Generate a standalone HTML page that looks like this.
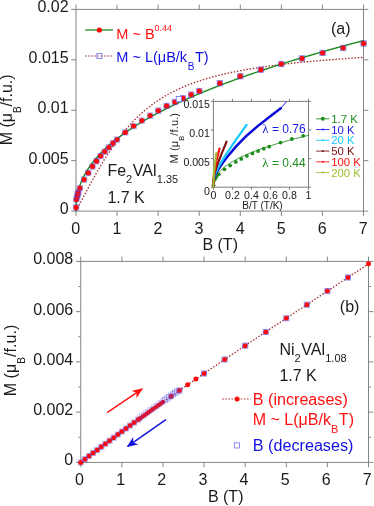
<!DOCTYPE html>
<html><head><meta charset="utf-8"><title>chart</title><style>html,body{margin:0;padding:0;background:#fff;}svg{display:block;}</style></head><body>
<svg width="374" height="506" viewBox="0 0 374 506" font-family="Liberation Sans, sans-serif">
<rect x="0" y="0" width="374" height="506" fill="#ffffff"/>
<filter id="idf" x="0" y="0" width="374" height="506" filterUnits="userSpaceOnUse" color-interpolation-filters="sRGB"><feOffset dx="0" dy="0"/></filter>
<g filter="url(#idf)">
<clipPath id="ca"><rect x="76.0" y="9.4" width="288.0" height="201.7"/></clipPath>
<path d="M76.00 9.40 H363.50 V211.10 H76.00 Z" fill="none" stroke="#858585" stroke-width="1"/>
<line x1="76.00" y1="211.10" x2="76.00" y2="215.90" stroke="#858585" stroke-width="1" />
<line x1="76.00" y1="9.40" x2="76.00" y2="4.60" stroke="#858585" stroke-width="1" />
<line x1="117.07" y1="211.10" x2="117.07" y2="215.90" stroke="#858585" stroke-width="1" />
<line x1="117.07" y1="9.40" x2="117.07" y2="4.60" stroke="#858585" stroke-width="1" />
<line x1="158.14" y1="211.10" x2="158.14" y2="215.90" stroke="#858585" stroke-width="1" />
<line x1="158.14" y1="9.40" x2="158.14" y2="4.60" stroke="#858585" stroke-width="1" />
<line x1="199.21" y1="211.10" x2="199.21" y2="215.90" stroke="#858585" stroke-width="1" />
<line x1="199.21" y1="9.40" x2="199.21" y2="4.60" stroke="#858585" stroke-width="1" />
<line x1="240.29" y1="211.10" x2="240.29" y2="215.90" stroke="#858585" stroke-width="1" />
<line x1="240.29" y1="9.40" x2="240.29" y2="4.60" stroke="#858585" stroke-width="1" />
<line x1="281.36" y1="211.10" x2="281.36" y2="215.90" stroke="#858585" stroke-width="1" />
<line x1="281.36" y1="9.40" x2="281.36" y2="4.60" stroke="#858585" stroke-width="1" />
<line x1="322.43" y1="211.10" x2="322.43" y2="215.90" stroke="#858585" stroke-width="1" />
<line x1="322.43" y1="9.40" x2="322.43" y2="4.60" stroke="#858585" stroke-width="1" />
<line x1="363.50" y1="211.10" x2="363.50" y2="215.90" stroke="#858585" stroke-width="1" />
<line x1="363.50" y1="9.40" x2="363.50" y2="4.60" stroke="#858585" stroke-width="1" />
<line x1="71.20" y1="211.10" x2="76.00" y2="211.10" stroke="#858585" stroke-width="1" />
<line x1="363.50" y1="211.10" x2="368.30" y2="211.10" stroke="#858585" stroke-width="1" />
<line x1="71.20" y1="160.67" x2="76.00" y2="160.67" stroke="#858585" stroke-width="1" />
<line x1="363.50" y1="160.67" x2="368.30" y2="160.67" stroke="#858585" stroke-width="1" />
<line x1="71.20" y1="110.25" x2="76.00" y2="110.25" stroke="#858585" stroke-width="1" />
<line x1="363.50" y1="110.25" x2="368.30" y2="110.25" stroke="#858585" stroke-width="1" />
<line x1="71.20" y1="59.82" x2="76.00" y2="59.82" stroke="#858585" stroke-width="1" />
<line x1="363.50" y1="59.82" x2="368.30" y2="59.82" stroke="#858585" stroke-width="1" />
<line x1="71.20" y1="9.40" x2="76.00" y2="9.40" stroke="#858585" stroke-width="1" />
<line x1="363.50" y1="9.40" x2="368.30" y2="9.40" stroke="#858585" stroke-width="1" />
<path d="M76.00 211.10 L76.72 209.72 L77.44 208.34 L78.16 206.96 L78.88 205.58 L79.59 204.21 L80.31 202.83 L81.03 201.46 L81.75 200.09 L82.47 198.72 L83.19 197.35 L83.91 195.99 L84.62 194.63 L85.34 193.28 L86.06 191.92 L86.78 190.58 L87.50 189.23 L88.22 187.90 L88.94 186.57 L89.66 185.24 L90.38 183.92 L91.09 182.60 L91.81 181.29 L92.53 179.99 L93.25 178.70 L93.97 177.41 L94.69 176.13 L95.41 174.85 L96.12 173.59 L96.84 172.33 L97.56 171.08 L98.28 169.83 L99.00 168.60 L99.72 167.37 L100.44 166.16 L101.16 164.95 L101.88 163.75 L102.59 162.56 L103.31 161.38 L104.03 160.21 L104.75 159.05 L105.47 157.90 L106.19 156.76 L106.91 155.63 L107.62 154.50 L108.34 153.39 L109.06 152.29 L109.78 151.20 L110.50 150.12 L111.22 149.05 L111.94 147.99 L112.66 146.94 L113.38 145.90 L114.09 144.87 L114.81 143.85 L115.53 142.85 L116.25 141.85 L116.97 140.86 L117.69 139.89 L118.41 138.92 L119.12 137.97 L119.84 137.02 L120.56 136.09 L121.28 135.17 L122.00 134.25 L122.72 133.35 L123.44 132.46 L124.16 131.58 L124.88 130.71 L125.59 129.85 L126.31 129.00 L127.03 128.16 L127.75 127.33 L128.47 126.51 L129.19 125.70 L129.91 124.90 L130.62 124.11 L131.34 123.33 L132.06 122.56 L132.78 121.80 L133.50 121.05 L134.22 120.30 L134.94 119.57 L135.66 118.85 L136.38 118.13 L137.09 117.43 L137.81 116.73 L138.53 116.05 L139.25 115.37 L139.97 114.70 L140.69 114.04 L141.41 113.39 L142.12 112.74 L142.84 112.11 L143.56 111.48 L144.28 110.86 L145.00 110.25 L145.72 109.65 L146.44 109.05 L147.16 108.47 L147.88 107.89 L148.59 107.31 L149.31 106.75 L150.03 106.19 L150.75 105.64 L151.47 105.10 L152.19 104.57 L152.91 104.04 L153.62 103.52 L154.34 103.00 L155.06 102.50 L155.78 101.99 L156.50 101.50 L157.22 101.01 L157.94 100.53 L158.66 100.05 L159.38 99.59 L160.09 99.12 L160.81 98.67 L161.53 98.21 L162.25 97.77 L162.97 97.33 L163.69 96.90 L164.41 96.47 L165.12 96.05 L165.84 95.63 L166.56 95.22 L167.28 94.81 L168.00 94.41 L168.72 94.01 L169.44 93.62 L170.16 93.23 L170.88 92.85 L171.59 92.48 L172.31 92.10 L173.03 91.74 L173.75 91.37 L174.47 91.01 L175.19 90.66 L175.91 90.31 L176.62 89.97 L177.34 89.63 L178.06 89.29 L178.78 88.96 L179.50 88.63 L180.22 88.30 L180.94 87.98 L181.66 87.67 L182.38 87.35 L183.09 87.04 L183.81 86.74 L184.53 86.44 L185.25 86.14 L185.97 85.84 L186.69 85.55 L187.41 85.26 L188.12 84.98 L188.84 84.70 L189.56 84.42 L190.28 84.15 L191.00 83.87 L191.72 83.61 L192.44 83.34 L193.16 83.08 L193.88 82.82 L194.59 82.56 L195.31 82.31 L196.03 82.06 L196.75 81.81 L197.47 81.56 L198.19 81.32 L198.91 81.08 L199.62 80.84 L200.34 80.61 L201.06 80.38 L201.78 80.15 L202.50 79.92 L203.22 79.70 L203.94 79.47 L204.66 79.25 L205.38 79.04 L206.09 78.82 L206.81 78.61 L207.53 78.40 L208.25 78.19 L208.97 77.98 L209.69 77.78 L210.41 77.58 L211.12 77.38 L211.84 77.18 L212.56 76.98 L213.28 76.79 L214.00 76.60 L214.72 76.41 L215.44 76.22 L216.16 76.03 L216.88 75.85 L217.59 75.67 L218.31 75.49 L219.03 75.31 L219.75 75.13 L220.47 74.95 L221.19 74.78 L221.91 74.61 L222.62 74.44 L223.34 74.27 L224.06 74.10 L224.78 73.93 L225.50 73.77 L226.22 73.61 L226.94 73.45 L227.66 73.29 L228.38 73.13 L229.09 72.97 L229.81 72.82 L230.53 72.66 L231.25 72.51 L231.97 72.36 L232.69 72.21 L233.41 72.06 L234.12 71.92 L234.84 71.77 L235.56 71.63 L236.28 71.48 L237.00 71.34 L237.72 71.20 L238.44 71.06 L239.16 70.92 L239.88 70.79 L240.59 70.65 L241.31 70.52 L242.03 70.38 L242.75 70.25 L243.47 70.12 L244.19 69.99 L244.91 69.86 L245.62 69.73 L246.34 69.61 L247.06 69.48 L247.78 69.36 L248.50 69.23 L249.22 69.11 L249.94 68.99 L250.66 68.87 L251.37 68.75 L252.09 68.63 L252.81 68.51 L253.53 68.39 L254.25 68.28 L254.97 68.16 L255.69 68.05 L256.41 67.94 L257.12 67.82 L257.84 67.71 L258.56 67.60 L259.28 67.49 L260.00 67.38 L260.72 67.28 L261.44 67.17 L262.16 67.06 L262.88 66.96 L263.59 66.85 L264.31 66.75 L265.03 66.65 L265.75 66.54 L266.47 66.44 L267.19 66.34 L267.91 66.24 L268.62 66.14 L269.34 66.05 L270.06 65.95 L270.78 65.85 L271.50 65.75 L272.22 65.66 L272.94 65.56 L273.66 65.47 L274.38 65.38 L275.09 65.28 L275.81 65.19 L276.53 65.10 L277.25 65.01 L277.97 64.92 L278.69 64.83 L279.41 64.74 L280.12 64.65 L280.84 64.56 L281.56 64.48 L282.28 64.39 L283.00 64.30 L283.72 64.22 L284.44 64.13 L285.16 64.05 L285.88 63.97 L286.59 63.88 L287.31 63.80 L288.03 63.72 L288.75 63.64 L289.47 63.56 L290.19 63.48 L290.91 63.40 L291.62 63.32 L292.34 63.24 L293.06 63.16 L293.78 63.08 L294.50 63.01 L295.22 62.93 L295.94 62.85 L296.66 62.78 L297.38 62.70 L298.09 62.63 L298.81 62.56 L299.53 62.48 L300.25 62.41 L300.97 62.34 L301.69 62.26 L302.41 62.19 L303.12 62.12 L303.84 62.05 L304.56 61.98 L305.28 61.91 L306.00 61.84 L306.72 61.77 L307.44 61.70 L308.16 61.63 L308.88 61.57 L309.59 61.50 L310.31 61.43 L311.03 61.36 L311.75 61.30 L312.47 61.23 L313.19 61.17 L313.91 61.10 L314.62 61.04 L315.34 60.97 L316.06 60.91 L316.78 60.85 L317.50 60.78 L318.22 60.72 L318.94 60.66 L319.66 60.60 L320.38 60.53 L321.09 60.47 L321.81 60.41 L322.53 60.35 L323.25 60.29 L323.97 60.23 L324.69 60.17 L325.41 60.11 L326.12 60.05 L326.84 60.00 L327.56 59.94 L328.28 59.88 L329.00 59.82 L329.72 59.77 L330.44 59.71 L331.16 59.65 L331.88 59.60 L332.59 59.54 L333.31 59.49 L334.03 59.43 L334.75 59.37 L335.47 59.32 L336.19 59.27 L336.91 59.21 L337.62 59.16 L338.34 59.10 L339.06 59.05 L339.78 59.00 L340.50 58.95 L341.22 58.89 L341.94 58.84 L342.66 58.79 L343.38 58.74 L344.09 58.69 L344.81 58.64 L345.53 58.59 L346.25 58.54 L346.97 58.49 L347.69 58.44 L348.41 58.39 L349.12 58.34 L349.84 58.29 L350.56 58.24 L351.28 58.19 L352.00 58.14 L352.72 58.09 L353.44 58.05 L354.16 58.00 L354.88 57.95 L355.59 57.90 L356.31 57.86 L357.03 57.81 L357.75 57.77 L358.47 57.72 L359.19 57.67 L359.91 57.63 L360.62 57.58 L361.34 57.54 L362.06 57.49 L362.78 57.45 L363.50 57.40" fill="none" stroke="#a52a2a" stroke-width="1.3" stroke-dasharray="1.5 1.7"/>
<path d="M76.00 211.10 L76.00 210.23 L76.01 209.49 L76.02 208.80 L76.03 208.14 L76.04 207.49 L76.06 206.87 L76.09 206.25 L76.11 205.65 L76.15 205.05 L76.18 204.47 L76.22 203.88 L76.26 203.31 L76.30 202.74 L76.35 202.18 L76.40 201.62 L76.46 201.07 L76.52 200.52 L76.58 199.97 L76.65 199.43 L76.72 198.89 L76.79 198.35 L76.87 197.82 L76.95 197.29 L77.03 196.76 L77.12 196.24 L77.21 195.72 L77.31 195.20 L77.41 194.68 L77.51 194.17 L77.62 193.65 L77.73 193.14 L77.84 192.63 L77.96 192.13 L78.08 191.62 L78.20 191.12 L78.33 190.62 L78.46 190.12 L78.59 189.62 L78.73 189.12 L78.88 188.63 L79.02 188.13 L79.17 187.64 L79.32 187.15 L79.48 186.66 L79.64 186.17 L79.80 185.69 L79.97 185.20 L80.14 184.72 L80.31 184.23 L80.49 183.75 L80.67 183.27 L80.86 182.79 L81.05 182.31 L81.24 181.84 L81.44 181.36 L81.64 180.88 L81.84 180.41 L82.04 179.94 L82.25 179.46 L82.47 178.99 L82.69 178.52 L82.91 178.05 L83.13 177.58 L83.36 177.12 L83.59 176.65 L83.83 176.18 L84.07 175.72 L84.31 175.25 L84.55 174.79 L84.80 174.33 L85.06 173.87 L85.31 173.41 L85.58 172.94 L85.84 172.49 L86.11 172.03 L86.38 171.57 L86.65 171.11 L86.93 170.65 L87.21 170.20 L87.50 169.74 L87.79 169.29 L88.08 168.83 L88.38 168.38 L88.68 167.93 L88.98 167.48 L89.29 167.03 L89.60 166.57 L89.91 166.12 L90.23 165.68 L90.55 165.23 L90.88 164.78 L91.21 164.33 L91.54 163.88 L91.88 163.44 L92.22 162.99 L92.56 162.55 L92.91 162.10 L93.26 161.66 L93.61 161.21 L93.97 160.77 L94.33 160.33 L94.69 159.88 L95.06 159.44 L95.44 159.00 L95.81 158.56 L96.19 158.12 L96.57 157.68 L96.96 157.24 L97.35 156.80 L97.74 156.37 L98.14 155.93 L98.54 155.49 L98.94 155.05 L99.35 154.62 L99.76 154.18 L100.18 153.75 L100.60 153.31 L101.02 152.88 L101.45 152.44 L101.88 152.01 L102.31 151.58 L102.74 151.14 L103.18 150.71 L103.63 150.28 L104.08 149.85 L104.53 149.42 L104.98 148.99 L105.44 148.56 L105.90 148.13 L106.37 147.70 L106.84 147.27 L107.31 146.84 L107.78 146.41 L108.26 145.98 L108.75 145.56 L109.24 145.13 L109.73 144.70 L110.22 144.28 L110.72 143.85 L111.22 143.43 L111.72 143.00 L112.23 142.58 L112.74 142.15 L113.26 141.73 L113.78 141.30 L114.30 140.88 L114.83 140.46 L115.36 140.03 L115.89 139.61 L116.43 139.19 L116.97 138.77 L117.51 138.35 L118.06 137.93 L118.61 137.50 L119.17 137.08 L119.73 136.66 L120.29 136.24 L120.86 135.83 L121.43 135.41 L122.00 134.99 L122.58 134.57 L123.16 134.15 L123.74 133.73 L124.33 133.32 L124.92 132.90 L125.51 132.48 L126.11 132.06 L126.72 131.65 L127.32 131.23 L127.93 130.82 L128.54 130.40 L129.16 129.99 L129.78 129.57 L130.40 129.16 L131.03 128.74 L131.66 128.33 L132.29 127.91 L132.93 127.50 L133.57 127.09 L134.22 126.68 L134.87 126.26 L135.52 125.85 L136.18 125.44 L136.84 125.03 L137.50 124.61 L138.16 124.20 L138.83 123.79 L139.51 123.38 L140.19 122.97 L140.87 122.56 L141.55 122.15 L142.24 121.74 L142.93 121.33 L143.63 120.92 L144.33 120.51 L145.03 120.11 L145.73 119.70 L146.44 119.29 L147.16 118.88 L147.88 118.47 L148.60 118.07 L149.32 117.66 L150.05 117.25 L150.78 116.84 L151.51 116.44 L152.25 116.03 L152.99 115.63 L153.74 115.22 L154.49 114.81 L155.24 114.41 L156.00 114.00 L156.76 113.60 L157.52 113.20 L158.29 112.79 L159.06 112.39 L159.84 111.98 L160.61 111.58 L161.39 111.18 L162.18 110.77 L162.97 110.37 L163.76 109.97 L164.56 109.56 L165.36 109.16 L166.16 108.76 L166.97 108.36 L167.78 107.96 L168.59 107.55 L169.41 107.15 L170.23 106.75 L171.05 106.35 L171.88 105.95 L172.71 105.55 L173.55 105.15 L174.39 104.75 L175.23 104.35 L176.08 103.95 L176.93 103.55 L177.78 103.15 L178.64 102.75 L179.50 102.35 L180.36 101.95 L181.23 101.56 L182.10 101.16 L182.98 100.76 L183.86 100.36 L184.74 99.96 L185.63 99.57 L186.51 99.17 L187.41 98.77 L188.30 98.38 L189.20 97.98 L190.11 97.58 L191.02 97.19 L191.93 96.79 L192.84 96.39 L193.76 96.00 L194.68 95.60 L195.61 95.21 L196.54 94.81 L197.47 94.42 L198.40 94.02 L199.34 93.63 L200.29 93.23 L201.24 92.84 L202.19 92.44 L203.14 92.05 L204.10 91.66 L205.06 91.26 L206.02 90.87 L206.99 90.48 L207.96 90.08 L208.94 89.69 L209.92 89.30 L210.90 88.91 L211.89 88.51 L212.88 88.12 L213.87 87.73 L214.87 87.34 L215.87 86.95 L216.87 86.55 L217.88 86.16 L218.89 85.77 L219.91 85.38 L220.93 84.99 L221.95 84.60 L222.98 84.21 L224.01 83.82 L225.04 83.43 L226.08 83.04 L227.12 82.65 L228.16 82.26 L229.21 81.87 L230.26 81.48 L231.31 81.09 L232.37 80.70 L233.43 80.31 L234.50 79.92 L235.57 79.53 L236.64 79.15 L237.72 78.76 L238.80 78.37 L239.88 77.98 L240.97 77.59 L242.06 77.21 L243.15 76.82 L244.25 76.43 L245.35 76.04 L246.46 75.66 L247.57 75.27 L248.68 74.88 L249.80 74.50 L250.92 74.11 L252.04 73.72 L253.16 73.34 L254.29 72.95 L255.43 72.57 L256.57 72.18 L257.71 71.80 L258.85 71.41 L260.00 71.02 L261.15 70.64 L262.31 70.25 L263.47 69.87 L264.63 69.48 L265.79 69.10 L266.96 68.72 L268.14 68.33 L269.31 67.95 L270.50 67.56 L271.68 67.18 L272.87 66.80 L274.06 66.41 L275.25 66.03 L276.45 65.65 L277.65 65.26 L278.86 64.88 L280.07 64.50 L281.28 64.11 L282.50 63.73 L283.72 63.35 L284.94 62.97 L286.17 62.58 L287.40 62.20 L288.63 61.82 L289.87 61.44 L291.11 61.06 L292.36 60.67 L293.61 60.29 L294.86 59.91 L296.12 59.53 L297.38 59.15 L298.64 58.77 L299.91 58.39 L301.18 58.01 L302.45 57.63 L303.73 57.25 L305.01 56.87 L306.29 56.49 L307.58 56.11 L308.88 55.73 L310.17 55.35 L311.47 54.97 L312.77 54.59 L314.08 54.21 L315.39 53.83 L316.70 53.45 L318.02 53.07 L319.34 52.69 L320.66 52.31 L321.99 51.93 L323.32 51.56 L324.66 51.18 L326.00 50.80 L327.34 50.42 L328.69 50.04 L330.03 49.67 L331.39 49.29 L332.74 48.91 L334.10 48.53 L335.47 48.16 L336.84 47.78 L338.21 47.40 L339.58 47.02 L340.96 46.65 L342.34 46.27 L343.73 45.89 L345.12 45.52 L346.51 45.14 L347.90 44.76 L349.30 44.39 L350.71 44.01 L352.11 43.64 L353.53 43.26 L354.94 42.88 L356.36 42.51 L357.78 42.13 L359.20 41.76 L360.63 41.38 L362.06 41.01 L363.50 40.63" fill="none" stroke="#1e8c1e" stroke-width="1.4"/>
<circle cx="76.10" cy="207.50" r="2.7" fill="#ff0a0a"/>
<circle cx="76.40" cy="199.40" r="2.7" fill="#ff0a0a"/>
<circle cx="77.20" cy="196.50" r="2.7" fill="#ff0a0a"/>
<circle cx="77.70" cy="194.20" r="2.7" fill="#ff0a0a"/>
<circle cx="78.30" cy="192.10" r="2.7" fill="#ff0a0a"/>
<circle cx="79.90" cy="188.10" r="2.7" fill="#ff0a0a"/>
<circle cx="84.10" cy="179.60" r="2.7" fill="#ff0a0a"/>
<circle cx="88.30" cy="172.90" r="2.7" fill="#ff0a0a"/>
<circle cx="92.50" cy="166.50" r="2.7" fill="#ff0a0a"/>
<circle cx="96.50" cy="161.20" r="2.7" fill="#ff0a0a"/>
<circle cx="100.60" cy="156.00" r="2.7" fill="#ff0a0a"/>
<circle cx="104.70" cy="151.60" r="2.7" fill="#ff0a0a"/>
<circle cx="108.80" cy="147.40" r="2.7" fill="#ff0a0a"/>
<circle cx="113.00" cy="143.20" r="2.7" fill="#ff0a0a"/>
<circle cx="117.00" cy="139.60" r="2.7" fill="#ff0a0a"/>
<circle cx="125.30" cy="132.40" r="2.7" fill="#ff0a0a"/>
<circle cx="133.60" cy="126.10" r="2.7" fill="#ff0a0a"/>
<circle cx="141.90" cy="120.60" r="2.7" fill="#ff0a0a"/>
<circle cx="150.20" cy="115.60" r="2.7" fill="#ff0a0a"/>
<circle cx="158.30" cy="110.60" r="2.7" fill="#ff0a0a"/>
<circle cx="166.60" cy="105.90" r="2.7" fill="#ff0a0a"/>
<circle cx="174.90" cy="102.10" r="2.7" fill="#ff0a0a"/>
<circle cx="182.90" cy="98.30" r="2.7" fill="#ff0a0a"/>
<circle cx="191.20" cy="94.60" r="2.7" fill="#ff0a0a"/>
<circle cx="199.30" cy="91.00" r="2.7" fill="#ff0a0a"/>
<circle cx="219.80" cy="83.20" r="2.7" fill="#ff0a0a"/>
<circle cx="240.30" cy="76.30" r="2.7" fill="#ff0a0a"/>
<circle cx="260.80" cy="69.70" r="2.7" fill="#ff0a0a"/>
<circle cx="281.30" cy="64.00" r="2.7" fill="#ff0a0a"/>
<circle cx="302.00" cy="58.40" r="2.7" fill="#ff0a0a"/>
<circle cx="322.60" cy="52.90" r="2.7" fill="#ff0a0a"/>
<circle cx="343.20" cy="48.00" r="2.7" fill="#ff0a0a"/>
<circle cx="363.60" cy="43.50" r="2.7" fill="#ff0a0a"/>
<rect x="73.40" y="204.80" width="5.4" height="5.4" fill="none" stroke="#4646e6" stroke-opacity="0.5" stroke-width="0.8"/>
<rect x="73.70" y="196.70" width="5.4" height="5.4" fill="none" stroke="#4646e6" stroke-opacity="0.5" stroke-width="0.8"/>
<rect x="74.50" y="193.80" width="5.4" height="5.4" fill="none" stroke="#4646e6" stroke-opacity="0.5" stroke-width="0.8"/>
<rect x="75.00" y="191.50" width="5.4" height="5.4" fill="none" stroke="#4646e6" stroke-opacity="0.5" stroke-width="0.8"/>
<rect x="75.60" y="189.40" width="5.4" height="5.4" fill="none" stroke="#4646e6" stroke-opacity="0.5" stroke-width="0.8"/>
<rect x="77.20" y="185.40" width="5.4" height="5.4" fill="none" stroke="#4646e6" stroke-opacity="0.5" stroke-width="0.8"/>
<rect x="81.40" y="176.90" width="5.4" height="5.4" fill="none" stroke="#4646e6" stroke-opacity="0.5" stroke-width="0.8"/>
<rect x="85.60" y="170.20" width="5.4" height="5.4" fill="none" stroke="#4646e6" stroke-opacity="0.5" stroke-width="0.8"/>
<rect x="89.80" y="163.80" width="5.4" height="5.4" fill="none" stroke="#4646e6" stroke-opacity="0.5" stroke-width="0.8"/>
<rect x="93.80" y="158.50" width="5.4" height="5.4" fill="none" stroke="#4646e6" stroke-opacity="0.5" stroke-width="0.8"/>
<rect x="97.90" y="153.30" width="5.4" height="5.4" fill="none" stroke="#4646e6" stroke-opacity="0.5" stroke-width="0.8"/>
<rect x="102.00" y="148.90" width="5.4" height="5.4" fill="none" stroke="#4646e6" stroke-opacity="0.5" stroke-width="0.8"/>
<rect x="106.10" y="144.70" width="5.4" height="5.4" fill="none" stroke="#4646e6" stroke-opacity="0.5" stroke-width="0.8"/>
<rect x="110.30" y="140.50" width="5.4" height="5.4" fill="none" stroke="#4646e6" stroke-opacity="0.5" stroke-width="0.8"/>
<rect x="114.30" y="136.90" width="5.4" height="5.4" fill="none" stroke="#4646e6" stroke-opacity="0.5" stroke-width="0.8"/>
<rect x="122.60" y="129.70" width="5.4" height="5.4" fill="none" stroke="#4646e6" stroke-opacity="0.5" stroke-width="0.8"/>
<rect x="130.90" y="123.40" width="5.4" height="5.4" fill="none" stroke="#4646e6" stroke-opacity="0.5" stroke-width="0.8"/>
<rect x="139.20" y="117.90" width="5.4" height="5.4" fill="none" stroke="#4646e6" stroke-opacity="0.5" stroke-width="0.8"/>
<rect x="147.50" y="112.90" width="5.4" height="5.4" fill="none" stroke="#4646e6" stroke-opacity="0.5" stroke-width="0.8"/>
<rect x="155.60" y="107.90" width="5.4" height="5.4" fill="none" stroke="#4646e6" stroke-opacity="0.65" stroke-width="0.8"/>
<rect x="163.90" y="103.20" width="5.4" height="5.4" fill="none" stroke="#4646e6" stroke-opacity="0.65" stroke-width="0.8"/>
<rect x="172.20" y="99.40" width="5.4" height="5.4" fill="none" stroke="#4646e6" stroke-opacity="0.65" stroke-width="0.8"/>
<rect x="180.20" y="95.60" width="5.4" height="5.4" fill="none" stroke="#4646e6" stroke-opacity="0.65" stroke-width="0.8"/>
<rect x="188.50" y="91.90" width="5.4" height="5.4" fill="none" stroke="#4646e6" stroke-opacity="0.65" stroke-width="0.8"/>
<rect x="196.60" y="88.30" width="5.4" height="5.4" fill="none" stroke="#4646e6" stroke-opacity="0.65" stroke-width="0.8"/>
<rect x="217.10" y="80.50" width="5.4" height="5.4" fill="none" stroke="#4646e6" stroke-opacity="0.65" stroke-width="0.8"/>
<rect x="237.60" y="73.60" width="5.4" height="5.4" fill="none" stroke="#4646e6" stroke-opacity="0.65" stroke-width="0.8"/>
<rect x="258.10" y="67.00" width="5.4" height="5.4" fill="none" stroke="#4646e6" stroke-opacity="0.65" stroke-width="0.8"/>
<rect x="278.60" y="61.30" width="5.4" height="5.4" fill="none" stroke="#4646e6" stroke-opacity="0.65" stroke-width="0.8"/>
<rect x="299.30" y="55.70" width="5.4" height="5.4" fill="none" stroke="#4646e6" stroke-opacity="0.65" stroke-width="0.8"/>
<rect x="319.90" y="50.20" width="5.4" height="5.4" fill="none" stroke="#4646e6" stroke-opacity="0.65" stroke-width="0.8"/>
<rect x="340.50" y="45.30" width="5.4" height="5.4" fill="none" stroke="#4646e6" stroke-opacity="0.65" stroke-width="0.8"/>
<rect x="360.90" y="40.80" width="5.4" height="5.4" fill="none" stroke="#4646e6" stroke-opacity="0.65" stroke-width="0.8"/>
<rect x="176.2" y="96.4" width="5.4" height="5.4" fill="#ffffff" stroke="#7070ee" stroke-width="0.8"/>
<text x="68.60" y="213.80" font-size="16" fill="#1a1a1a" text-anchor="end" >0</text>
<text x="68.60" y="163.70" font-size="16" fill="#1a1a1a" text-anchor="end" >0.005</text>
<text x="68.60" y="113.20" font-size="16" fill="#1a1a1a" text-anchor="end" >0.01</text>
<text x="68.60" y="62.70" font-size="16" fill="#1a1a1a" text-anchor="end" >0.015</text>
<text x="68.60" y="12.40" font-size="16" fill="#1a1a1a" text-anchor="end" >0.02</text>
<text x="75.80" y="234.40" font-size="16" fill="#1a1a1a" text-anchor="middle" >0</text>
<text x="116.87" y="234.40" font-size="16" fill="#1a1a1a" text-anchor="middle" >1</text>
<text x="157.94" y="234.40" font-size="16" fill="#1a1a1a" text-anchor="middle" >2</text>
<text x="199.01" y="234.40" font-size="16" fill="#1a1a1a" text-anchor="middle" >3</text>
<text x="240.09" y="234.40" font-size="16" fill="#1a1a1a" text-anchor="middle" >4</text>
<text x="281.16" y="234.40" font-size="16" fill="#1a1a1a" text-anchor="middle" >5</text>
<text x="322.23" y="234.40" font-size="16" fill="#1a1a1a" text-anchor="middle" >6</text>
<text x="363.30" y="234.40" font-size="16" fill="#1a1a1a" text-anchor="middle" >7</text>
<text x="220.20" y="249.90" font-size="16" fill="#1a1a1a" text-anchor="middle" >B (T)</text>
<text transform="translate(11.9,145.3) rotate(-90)" font-size="16" fill="#1a1a1a" textLength="70.9" lengthAdjust="spacing">M (μ<tspan font-size="10" dy="8.8">B</tspan><tspan dy="-8.8">/f.u.)</tspan></text>
<line x1="85.30" y1="30.00" x2="113.00" y2="30.00" stroke="#1e8c1e" stroke-width="1.3" />
<circle cx="99.4" cy="30" r="2.6" fill="#ff0a0a"/>
<text x="116.3" y="38.9" font-size="14.5" fill="#ff1010">M ~ B<tspan font-size="9" dy="-7.8">0.44</tspan></text>
<line x1="85.30" y1="56.00" x2="113.00" y2="56.00" stroke="#a52a2a" stroke-width="1.2" stroke-dasharray="1.5 1.6"/>
<rect x="96.8" y="53.4" width="5.2" height="5.2" fill="none" stroke="#7070ee" stroke-width="0.8"/>
<text x="116.3" y="62.3" font-size="14.5" fill="#1010e0">M ~ L(μB/k<tspan font-size="10" dy="7.3" dx="0.6">B</tspan><tspan dy="-7.3" dx="0.5">T)</tspan></text>
<text x="331.00" y="33.50" font-size="16" fill="#1a1a1a" text-anchor="start" >(a)</text>
<text x="107.4" y="176.0" font-size="16" fill="#1a1a1a">Fe<tspan font-size="11" dy="7.3">2</tspan><tspan dy="-7.3" dx="0.6">VAl</tspan><tspan font-size="11" dy="7.3" dx="0.3">1.35</tspan></text>
<text x="107.40" y="202.50" font-size="16" fill="#1a1a1a" text-anchor="start" >1.7 K</text>
<rect x="213.40" y="101.40" width="95.10" height="85.80" fill="#ffffff"/>
<clipPath id="ci"><rect x="212.4" y="101.4" width="96.6" height="86.79999999999998"/></clipPath>
<path d="M213.40 101.40 H308.50 V187.20 H213.40 Z" fill="none" stroke="#6e6e6e" stroke-width="0.9"/>
<line x1="213.40" y1="187.20" x2="213.40" y2="189.80" stroke="#6e6e6e" stroke-width="0.9" />
<line x1="213.40" y1="101.40" x2="213.40" y2="98.80" stroke="#6e6e6e" stroke-width="0.9" />
<line x1="232.42" y1="187.20" x2="232.42" y2="189.80" stroke="#6e6e6e" stroke-width="0.9" />
<line x1="232.42" y1="101.40" x2="232.42" y2="98.80" stroke="#6e6e6e" stroke-width="0.9" />
<line x1="251.44" y1="187.20" x2="251.44" y2="189.80" stroke="#6e6e6e" stroke-width="0.9" />
<line x1="251.44" y1="101.40" x2="251.44" y2="98.80" stroke="#6e6e6e" stroke-width="0.9" />
<line x1="270.46" y1="187.20" x2="270.46" y2="189.80" stroke="#6e6e6e" stroke-width="0.9" />
<line x1="270.46" y1="101.40" x2="270.46" y2="98.80" stroke="#6e6e6e" stroke-width="0.9" />
<line x1="289.48" y1="187.20" x2="289.48" y2="189.80" stroke="#6e6e6e" stroke-width="0.9" />
<line x1="289.48" y1="101.40" x2="289.48" y2="98.80" stroke="#6e6e6e" stroke-width="0.9" />
<line x1="308.50" y1="187.20" x2="308.50" y2="189.80" stroke="#6e6e6e" stroke-width="0.9" />
<line x1="308.50" y1="101.40" x2="308.50" y2="98.80" stroke="#6e6e6e" stroke-width="0.9" />
<line x1="210.80" y1="187.20" x2="213.40" y2="187.20" stroke="#6e6e6e" stroke-width="0.9" />
<line x1="308.50" y1="187.20" x2="311.10" y2="187.20" stroke="#6e6e6e" stroke-width="0.9" />
<line x1="210.80" y1="158.60" x2="213.40" y2="158.60" stroke="#6e6e6e" stroke-width="0.9" />
<line x1="308.50" y1="158.60" x2="311.10" y2="158.60" stroke="#6e6e6e" stroke-width="0.9" />
<line x1="210.80" y1="130.00" x2="213.40" y2="130.00" stroke="#6e6e6e" stroke-width="0.9" />
<line x1="308.50" y1="130.00" x2="311.10" y2="130.00" stroke="#6e6e6e" stroke-width="0.9" />
<line x1="210.80" y1="101.40" x2="213.40" y2="101.40" stroke="#6e6e6e" stroke-width="0.9" />
<line x1="308.50" y1="101.40" x2="311.10" y2="101.40" stroke="#6e6e6e" stroke-width="0.9" />
<path d="M213.40 187.20 L213.41 186.30 L213.44 185.54 L213.49 184.83 L213.55 184.15 L213.64 183.48 L213.74 182.84 L213.87 182.20 L214.01 181.58 L214.17 180.97 L214.35 180.36 L214.55 179.76 L214.77 179.17 L215.01 178.59 L215.26 178.01 L215.54 177.43 L215.83 176.86 L216.15 176.29 L216.48 175.73 L216.83 175.17 L217.20 174.62 L217.59 174.06 L218.00 173.51 L218.43 172.97 L218.88 172.43 L219.34 171.89 L219.83 171.35 L220.33 170.81 L220.86 170.28 L221.40 169.75 L221.96 169.22 L222.54 168.69 L223.14 168.17 L223.76 167.65 L224.39 167.13 L225.05 166.61 L225.72 166.09 L226.42 165.58 L227.13 165.06 L227.86 164.55 L228.62 164.04 L229.39 163.53 L230.18 163.02 L230.98 162.52 L231.81 162.01 L232.66 161.51 L233.52 161.01 L234.41 160.51 L235.31 160.01 L236.23 159.51 L237.18 159.02 L238.14 158.52 L239.12 158.03 L240.11 157.53 L241.13 157.04 L242.17 156.55 L243.22 156.06 L244.30 155.57 L245.39 155.08 L246.50 154.60 L247.64 154.11 L248.79 153.63 L249.96 153.14 L251.15 152.66 L252.35 152.18 L253.58 151.70 L254.83 151.22 L256.09 150.74 L257.37 150.26 L258.68 149.78 L260.00 149.30 L261.34 148.83 L262.70 148.35 L264.08 147.88 L265.48 147.40 L266.89 146.93 L268.33 146.46 L269.78 145.99 L271.26 145.52 L272.75 145.05 L274.26 144.58 L275.80 144.11 L277.35 143.64 L278.91 143.17 L280.50 142.71 L282.11 142.24 L283.74 141.78 L285.38 141.31 L287.05 140.85 L288.73 140.39 L290.43 139.92 L292.15 139.46 L293.89 139.00 L295.65 138.54 L297.43 138.08 L299.23 137.62 L301.04 137.16 L302.88 136.70 L304.73 136.24 L306.61 135.79 L308.50 135.33" fill="none" stroke="#1e8c1e" stroke-width="0.9" stroke-linejoin="round" stroke-linecap="round" clip-path="url(#ci)" />
<circle cx="213.54" cy="185.16" r="1.9" fill="#1e8c1e"/>
<circle cx="213.94" cy="180.56" r="1.9" fill="#1e8c1e"/>
<circle cx="215.03" cy="178.92" r="1.9" fill="#1e8c1e"/>
<circle cx="215.72" cy="177.61" r="1.9" fill="#1e8c1e"/>
<circle cx="216.53" cy="176.42" r="1.9" fill="#1e8c1e"/>
<circle cx="218.71" cy="174.15" r="1.9" fill="#1e8c1e"/>
<circle cx="224.43" cy="169.33" r="1.9" fill="#1e8c1e"/>
<circle cx="230.15" cy="165.53" r="1.9" fill="#1e8c1e"/>
<circle cx="235.87" cy="161.90" r="1.9" fill="#1e8c1e"/>
<circle cx="241.32" cy="158.90" r="1.9" fill="#1e8c1e"/>
<circle cx="246.91" cy="155.95" r="1.9" fill="#1e8c1e"/>
<circle cx="252.49" cy="153.45" r="1.9" fill="#1e8c1e"/>
<circle cx="258.08" cy="151.07" r="1.9" fill="#1e8c1e"/>
<circle cx="263.80" cy="148.69" r="1.9" fill="#1e8c1e"/>
<circle cx="269.24" cy="146.65" r="1.9" fill="#1e8c1e"/>
<circle cx="280.55" cy="142.56" r="1.9" fill="#1e8c1e"/>
<circle cx="291.85" cy="138.99" r="1.9" fill="#1e8c1e"/>
<circle cx="303.16" cy="135.87" r="1.9" fill="#1e8c1e"/>
<path d="M213.20 187.17 L213.57 180.67 L214.69 176.02 L217.29 171.01 L221.93 163.95 L226.58 157.82 L235.87 146.67 L245.15 137.01 L257.97 125.87 L270.00 116.40 L280.80 108.20 L286.80 101.30" fill="none" stroke="#1a1ae6" stroke-width="1.0" stroke-linejoin="round" stroke-linecap="round" clip-path="url(#ci)" />
<path d="M213.20 187.17 L213.57 180.67 L214.69 176.02 L217.29 171.01 L221.93 163.95 L226.58 157.82 L235.87 146.67 L245.15 137.01 L257.97 125.87 L270.00 116.40 L280.80 108.20" fill="none" stroke="#0a0ad8" stroke-width="2.5" stroke-linejoin="round" stroke-linecap="round" clip-path="url(#ci)" />
<path d="M213.20 187.17 L213.57 179.74 L214.69 175.09 L217.29 169.15 L221.93 161.16 L226.58 153.73 L235.87 139.80 L246.64 124.94" fill="none" stroke="#19c8ff" stroke-width="2.3" stroke-linejoin="round" stroke-linecap="round" clip-path="url(#ci)" />
<path d="M213.20 187.17 L213.57 178.81 L214.69 173.24 L217.29 164.88 L221.93 152.80 L226.58 141.66" fill="none" stroke="#7a1414" stroke-width="2.2" stroke-linejoin="round" stroke-linecap="round" clip-path="url(#ci)" />
<path d="M213.20 187.17 L213.57 177.88 L214.69 170.45 L216.36 161.16 L219.52 148.53" fill="none" stroke="#ff1010" stroke-width="2.2" stroke-linejoin="round" stroke-linecap="round" clip-path="url(#ci)" />
<path d="M213.20 187.17 L213.57 176.02 L214.69 164.88 L216.36 153.17" fill="none" stroke="#a0c030" stroke-width="2.2" stroke-linejoin="round" stroke-linecap="round" clip-path="url(#ci)" />
<text x="209.90" y="107.50" font-size="10.6" fill="#1a1a1a" text-anchor="end" >0.015</text>
<text x="209.90" y="137.40" font-size="10.6" fill="#1a1a1a" text-anchor="end" >0.01</text>
<text x="209.90" y="165.50" font-size="10.6" fill="#1a1a1a" text-anchor="end" >0.005</text>
<text x="209.90" y="194.50" font-size="10.6" fill="#1a1a1a" text-anchor="end" >0</text>
<text x="213.40" y="199.30" font-size="10.6" fill="#1a1a1a" text-anchor="middle" >0</text>
<text x="232.42" y="199.30" font-size="10.6" fill="#1a1a1a" text-anchor="middle" >0.2</text>
<text x="251.44" y="199.30" font-size="10.6" fill="#1a1a1a" text-anchor="middle" >0.4</text>
<text x="270.46" y="199.30" font-size="10.6" fill="#1a1a1a" text-anchor="middle" >0.6</text>
<text x="289.48" y="199.30" font-size="10.6" fill="#1a1a1a" text-anchor="middle" >0.8</text>
<text x="308.50" y="199.30" font-size="10.6" fill="#1a1a1a" text-anchor="middle" >1</text>
<text x="262.50" y="209.00" font-size="10" fill="#1a1a1a" text-anchor="middle" >B/T (T/K)</text>
<text transform="translate(178.1,163.5) rotate(-90)" font-size="11" fill="#1a1a1a" textLength="50.5" lengthAdjust="spacing">M (μ<tspan font-size="7.5" dy="6.2">B</tspan><tspan dy="-6.2">/f.u.)</tspan></text>
<text x="262.3" y="133.0" font-size="12" fill="#1a1ae6"><tspan font-family="Liberation Serif, serif" font-size="13">λ</tspan> = 0.76</text>
<text x="262.3" y="167.0" font-size="12" fill="#1e8c1e"><tspan font-family="Liberation Serif, serif" font-size="13">λ</tspan> = 0.44</text>
<line x1="316.20" y1="118.80" x2="329.30" y2="118.80" stroke="#1e8c1e" stroke-width="0.9" />
<circle cx="322.8" cy="118.80" r="2.0" fill="#1e8c1e"/>
<text x="331.30" y="122.80" font-size="11.3" fill="#1e8c1e" text-anchor="start" >1.7 K</text>
<line x1="316.20" y1="129.56" x2="329.30" y2="129.56" stroke="#1a1ae6" stroke-width="0.9" />
<circle cx="322.8" cy="129.56" r="1.0" fill="#1a1ae6"/>
<text x="331.30" y="133.56" font-size="11.3" fill="#1a1ae6" text-anchor="start" >10 K</text>
<line x1="316.20" y1="140.32" x2="329.30" y2="140.32" stroke="#19c8ff" stroke-width="0.9" />
<circle cx="322.8" cy="140.32" r="1.0" fill="#19c8ff"/>
<text x="331.30" y="144.32" font-size="11.3" fill="#19c8ff" text-anchor="start" >20 K</text>
<line x1="316.20" y1="151.08" x2="329.30" y2="151.08" stroke="#7a1414" stroke-width="0.9" />
<circle cx="322.8" cy="151.08" r="1.0" fill="#7a1414"/>
<text x="331.30" y="155.08" font-size="11.3" fill="#7a1414" text-anchor="start" >50 K</text>
<line x1="316.20" y1="161.84" x2="329.30" y2="161.84" stroke="#ff1010" stroke-width="0.9" />
<circle cx="322.8" cy="161.84" r="1.0" fill="#ff1010"/>
<text x="331.30" y="165.84" font-size="11.3" fill="#ff1010" text-anchor="start" >100 K</text>
<line x1="316.20" y1="172.60" x2="329.30" y2="172.60" stroke="#a0c030" stroke-width="0.9" />
<circle cx="322.8" cy="172.60" r="1.0" fill="#a0c030"/>
<text x="331.30" y="176.60" font-size="11.3" fill="#a0c030" text-anchor="start" >200 K</text>
<path d="M80.75 261.40 H368.50 V462.40 H80.75 Z" fill="none" stroke="#858585" stroke-width="1"/>
<line x1="80.75" y1="462.40" x2="80.75" y2="467.20" stroke="#858585" stroke-width="1" />
<line x1="80.75" y1="261.40" x2="80.75" y2="256.60" stroke="#858585" stroke-width="1" />
<line x1="121.86" y1="462.40" x2="121.86" y2="467.20" stroke="#858585" stroke-width="1" />
<line x1="121.86" y1="261.40" x2="121.86" y2="256.60" stroke="#858585" stroke-width="1" />
<line x1="162.96" y1="462.40" x2="162.96" y2="467.20" stroke="#858585" stroke-width="1" />
<line x1="162.96" y1="261.40" x2="162.96" y2="256.60" stroke="#858585" stroke-width="1" />
<line x1="204.07" y1="462.40" x2="204.07" y2="467.20" stroke="#858585" stroke-width="1" />
<line x1="204.07" y1="261.40" x2="204.07" y2="256.60" stroke="#858585" stroke-width="1" />
<line x1="245.18" y1="462.40" x2="245.18" y2="467.20" stroke="#858585" stroke-width="1" />
<line x1="245.18" y1="261.40" x2="245.18" y2="256.60" stroke="#858585" stroke-width="1" />
<line x1="286.29" y1="462.40" x2="286.29" y2="467.20" stroke="#858585" stroke-width="1" />
<line x1="286.29" y1="261.40" x2="286.29" y2="256.60" stroke="#858585" stroke-width="1" />
<line x1="327.39" y1="462.40" x2="327.39" y2="467.20" stroke="#858585" stroke-width="1" />
<line x1="327.39" y1="261.40" x2="327.39" y2="256.60" stroke="#858585" stroke-width="1" />
<line x1="368.50" y1="462.40" x2="368.50" y2="467.20" stroke="#858585" stroke-width="1" />
<line x1="368.50" y1="261.40" x2="368.50" y2="256.60" stroke="#858585" stroke-width="1" />
<line x1="75.95" y1="462.40" x2="80.75" y2="462.40" stroke="#858585" stroke-width="1" />
<line x1="368.50" y1="462.40" x2="373.30" y2="462.40" stroke="#858585" stroke-width="1" />
<line x1="78.25" y1="437.27" x2="80.75" y2="437.27" stroke="#858585" stroke-width="1" />
<line x1="368.50" y1="437.27" x2="371.00" y2="437.27" stroke="#858585" stroke-width="1" />
<line x1="75.95" y1="412.15" x2="80.75" y2="412.15" stroke="#858585" stroke-width="1" />
<line x1="368.50" y1="412.15" x2="373.30" y2="412.15" stroke="#858585" stroke-width="1" />
<line x1="78.25" y1="387.02" x2="80.75" y2="387.02" stroke="#858585" stroke-width="1" />
<line x1="368.50" y1="387.02" x2="371.00" y2="387.02" stroke="#858585" stroke-width="1" />
<line x1="75.95" y1="361.90" x2="80.75" y2="361.90" stroke="#858585" stroke-width="1" />
<line x1="368.50" y1="361.90" x2="373.30" y2="361.90" stroke="#858585" stroke-width="1" />
<line x1="78.25" y1="336.77" x2="80.75" y2="336.77" stroke="#858585" stroke-width="1" />
<line x1="368.50" y1="336.77" x2="371.00" y2="336.77" stroke="#858585" stroke-width="1" />
<line x1="75.95" y1="311.65" x2="80.75" y2="311.65" stroke="#858585" stroke-width="1" />
<line x1="368.50" y1="311.65" x2="373.30" y2="311.65" stroke="#858585" stroke-width="1" />
<line x1="78.25" y1="286.52" x2="80.75" y2="286.52" stroke="#858585" stroke-width="1" />
<line x1="368.50" y1="286.52" x2="371.00" y2="286.52" stroke="#858585" stroke-width="1" />
<line x1="75.95" y1="261.40" x2="80.75" y2="261.40" stroke="#858585" stroke-width="1" />
<line x1="368.50" y1="261.40" x2="373.30" y2="261.40" stroke="#858585" stroke-width="1" />
<path d="M80.75 462.40 L82.19 461.30 L83.63 460.20 L85.07 459.10 L86.50 458.00 L87.94 456.90 L89.38 455.81 L90.82 454.72 L92.26 453.63 L93.70 452.54 L95.14 451.45 L96.58 450.37 L98.02 449.28 L99.45 448.20 L100.89 447.12 L102.33 446.04 L103.77 444.97 L105.21 443.89 L106.65 442.82 L108.09 441.75 L109.52 440.68 L110.96 439.61 L112.40 438.55 L113.84 437.48 L115.28 436.42 L116.72 435.36 L118.16 434.30 L119.60 433.24 L121.03 432.18 L122.47 431.13 L123.91 430.07 L125.35 429.02 L126.79 427.97 L128.23 426.92 L129.67 425.87 L131.11 424.83 L132.54 423.78 L133.98 422.74 L135.42 421.70 L136.86 420.66 L138.30 419.62 L139.74 418.58 L141.18 417.55 L142.62 416.51 L144.06 415.48 L145.49 414.45 L146.93 413.42 L148.37 412.39 L149.81 411.36 L151.25 410.34 L152.69 409.31 L154.13 408.29 L155.56 407.26 L157.00 406.24 L158.44 405.22 L159.88 404.21 L161.32 403.19 L162.76 402.17 L164.20 401.16 L165.64 400.14 L167.07 399.13 L168.51 398.12 L169.95 397.11 L171.39 396.10 L172.83 395.09 L174.27 394.09 L175.71 393.08 L177.15 392.08 L178.58 391.07 L180.02 390.07 L181.46 389.07 L182.90 388.07 L184.34 387.07 L185.78 386.07 L187.22 385.08 L188.66 384.08 L190.09 383.09 L191.53 382.09 L192.97 381.10 L194.41 380.11 L195.85 379.12 L197.29 378.13 L198.73 377.14 L200.17 376.15 L201.60 375.16 L203.04 374.18 L204.48 373.19 L205.92 372.21 L207.36 371.23 L208.80 370.24 L210.24 369.26 L211.68 368.28 L213.12 367.30 L214.55 366.32 L215.99 365.34 L217.43 364.37 L218.87 363.39 L220.31 362.41 L221.75 361.44 L223.19 360.46 L224.62 359.49 L226.06 358.52 L227.50 357.54 L228.94 356.57 L230.38 355.60 L231.82 354.63 L233.26 353.66 L234.70 352.69 L236.13 351.72 L237.57 350.76 L239.01 349.79 L240.45 348.82 L241.89 347.86 L243.33 346.89 L244.77 345.93 L246.21 344.96 L247.64 344.00 L249.08 343.04 L250.52 342.07 L251.96 341.11 L253.40 340.15 L254.84 339.19 L256.28 338.23 L257.72 337.27 L259.15 336.31 L260.59 335.35 L262.03 334.39 L263.47 333.43 L264.91 332.47 L266.35 331.52 L267.79 330.56 L269.23 329.60 L270.66 328.65 L272.10 327.69 L273.54 326.74 L274.98 325.78 L276.42 324.83 L277.86 323.87 L279.30 322.92 L280.74 321.96 L282.18 321.01 L283.61 320.06 L285.05 319.10 L286.49 318.15 L287.93 317.20 L289.37 316.24 L290.81 315.29 L292.25 314.34 L293.68 313.39 L295.12 312.44 L296.56 311.48 L298.00 310.53 L299.44 309.58 L300.88 308.63 L302.32 307.68 L303.76 306.73 L305.19 305.78 L306.63 304.83 L308.07 303.88 L309.51 302.92 L310.95 301.97 L312.39 301.02 L313.83 300.07 L315.27 299.12 L316.70 298.17 L318.14 297.22 L319.58 296.27 L321.02 295.32 L322.46 294.37 L323.90 293.42 L325.34 292.47 L326.78 291.52 L328.21 290.56 L329.65 289.61 L331.09 288.66 L332.53 287.71 L333.97 286.76 L335.41 285.81 L336.85 284.86 L338.29 283.90 L339.72 282.95 L341.16 282.00 L342.60 281.05 L344.04 280.09 L345.48 279.14 L346.92 278.19 L348.36 277.23 L349.80 276.28 L351.23 275.32 L352.67 274.37 L354.11 273.42 L355.55 272.46 L356.99 271.50 L358.43 270.55 L359.87 269.59 L361.31 268.64 L362.75 267.68 L364.18 266.72 L365.62 265.76 L367.06 264.81 L368.50 263.85" fill="none" stroke="#a52a2a" stroke-width="1.3" stroke-dasharray="1.5 1.7"/>
<circle cx="80.75" cy="462.40" r="2.5" fill="#ff0a0a"/>
<circle cx="84.86" cy="459.25" r="2.5" fill="#ff0a0a"/>
<circle cx="88.97" cy="456.12" r="2.5" fill="#ff0a0a"/>
<circle cx="93.08" cy="453.00" r="2.5" fill="#ff0a0a"/>
<circle cx="97.19" cy="449.90" r="2.5" fill="#ff0a0a"/>
<circle cx="101.30" cy="446.81" r="2.5" fill="#ff0a0a"/>
<circle cx="105.41" cy="443.74" r="2.5" fill="#ff0a0a"/>
<circle cx="109.53" cy="440.68" r="2.5" fill="#ff0a0a"/>
<circle cx="113.64" cy="437.63" r="2.5" fill="#ff0a0a"/>
<circle cx="117.75" cy="434.60" r="2.5" fill="#ff0a0a"/>
<circle cx="121.86" cy="431.58" r="2.5" fill="#ff0a0a"/>
<circle cx="125.97" cy="428.57" r="2.5" fill="#ff0a0a"/>
<circle cx="130.08" cy="425.58" r="2.5" fill="#ff0a0a"/>
<circle cx="134.19" cy="422.59" r="2.5" fill="#ff0a0a"/>
<circle cx="138.30" cy="419.62" r="2.5" fill="#ff0a0a"/>
<circle cx="140.36" cy="418.14" r="2.2" fill="#ff0a0a"/>
<circle cx="142.41" cy="416.66" r="2.2" fill="#ff0a0a"/>
<circle cx="144.47" cy="415.19" r="2.2" fill="#ff0a0a"/>
<circle cx="146.52" cy="413.71" r="2.2" fill="#ff0a0a"/>
<circle cx="148.58" cy="412.24" r="2.2" fill="#ff0a0a"/>
<circle cx="150.63" cy="410.78" r="2.2" fill="#ff0a0a"/>
<circle cx="152.69" cy="409.31" r="2.2" fill="#ff0a0a"/>
<circle cx="154.74" cy="407.85" r="2.2" fill="#ff0a0a"/>
<circle cx="156.80" cy="406.39" r="2.2" fill="#ff0a0a"/>
<circle cx="158.85" cy="404.93" r="2.2" fill="#ff0a0a"/>
<circle cx="160.91" cy="403.48" r="2.2" fill="#ff0a0a"/>
<circle cx="162.96" cy="402.03" r="2.2" fill="#ff0a0a"/>
<circle cx="171.19" cy="396.25" r="2.5" fill="#ff0a0a"/>
<circle cx="179.41" cy="390.50" r="2.5" fill="#ff0a0a"/>
<circle cx="187.63" cy="384.79" r="2.5" fill="#ff0a0a"/>
<circle cx="195.85" cy="379.12" r="2.5" fill="#ff0a0a"/>
<circle cx="204.07" cy="373.47" r="2.5" fill="#ff0a0a"/>
<circle cx="224.62" cy="359.49" r="2.5" fill="#ff0a0a"/>
<circle cx="245.18" cy="345.65" r="2.5" fill="#ff0a0a"/>
<circle cx="265.73" cy="331.93" r="2.5" fill="#ff0a0a"/>
<circle cx="286.29" cy="318.29" r="2.5" fill="#ff0a0a"/>
<circle cx="306.84" cy="304.69" r="2.5" fill="#ff0a0a"/>
<circle cx="327.39" cy="291.11" r="2.5" fill="#ff0a0a"/>
<circle cx="347.95" cy="277.51" r="2.5" fill="#ff0a0a"/>
<circle cx="368.50" cy="263.85" r="2.5" fill="#ff0a0a"/>
<rect x="78.15" y="459.80" width="5.2" height="5.2" fill="none" stroke="#4646e6" stroke-opacity="0.45" stroke-width="0.8"/>
<rect x="82.26" y="456.65" width="5.2" height="5.2" fill="none" stroke="#4646e6" stroke-opacity="0.45" stroke-width="0.8"/>
<rect x="86.37" y="453.52" width="5.2" height="5.2" fill="none" stroke="#4646e6" stroke-opacity="0.45" stroke-width="0.8"/>
<rect x="90.48" y="450.40" width="5.2" height="5.2" fill="none" stroke="#4646e6" stroke-opacity="0.45" stroke-width="0.8"/>
<rect x="94.59" y="447.30" width="5.2" height="5.2" fill="none" stroke="#4646e6" stroke-opacity="0.45" stroke-width="0.8"/>
<rect x="98.70" y="444.21" width="5.2" height="5.2" fill="none" stroke="#4646e6" stroke-opacity="0.45" stroke-width="0.8"/>
<rect x="102.81" y="441.14" width="5.2" height="5.2" fill="none" stroke="#4646e6" stroke-opacity="0.45" stroke-width="0.8"/>
<rect x="106.93" y="438.08" width="5.2" height="5.2" fill="none" stroke="#4646e6" stroke-opacity="0.45" stroke-width="0.8"/>
<rect x="111.04" y="435.03" width="5.2" height="5.2" fill="none" stroke="#4646e6" stroke-opacity="0.45" stroke-width="0.8"/>
<rect x="115.15" y="432.00" width="5.2" height="5.2" fill="none" stroke="#4646e6" stroke-opacity="0.45" stroke-width="0.8"/>
<rect x="119.26" y="428.98" width="5.2" height="5.2" fill="none" stroke="#4646e6" stroke-opacity="0.45" stroke-width="0.8"/>
<rect x="123.37" y="425.97" width="5.2" height="5.2" fill="none" stroke="#4646e6" stroke-opacity="0.45" stroke-width="0.8"/>
<rect x="127.48" y="422.98" width="5.2" height="5.2" fill="none" stroke="#4646e6" stroke-opacity="0.45" stroke-width="0.8"/>
<rect x="131.59" y="419.99" width="5.2" height="5.2" fill="none" stroke="#4646e6" stroke-opacity="0.45" stroke-width="0.8"/>
<rect x="135.70" y="417.02" width="5.2" height="5.2" fill="none" stroke="#4646e6" stroke-opacity="0.45" stroke-width="0.8"/>
<rect x="137.46" y="415.04" width="5.2" height="5.2" fill="none" stroke="#4646e6" stroke-opacity="0.28" stroke-width="0.8"/>
<rect x="139.51" y="413.56" width="5.2" height="5.2" fill="none" stroke="#4646e6" stroke-opacity="0.28" stroke-width="0.8"/>
<rect x="141.57" y="412.09" width="5.2" height="5.2" fill="none" stroke="#4646e6" stroke-opacity="0.28" stroke-width="0.8"/>
<rect x="143.62" y="410.61" width="5.2" height="5.2" fill="none" stroke="#4646e6" stroke-opacity="0.28" stroke-width="0.8"/>
<rect x="145.68" y="409.14" width="5.2" height="5.2" fill="none" stroke="#4646e6" stroke-opacity="0.28" stroke-width="0.8"/>
<rect x="147.73" y="407.68" width="5.2" height="5.2" fill="none" stroke="#4646e6" stroke-opacity="0.28" stroke-width="0.8"/>
<rect x="149.79" y="406.21" width="5.2" height="5.2" fill="none" stroke="#4646e6" stroke-opacity="0.28" stroke-width="0.8"/>
<rect x="151.84" y="404.75" width="5.2" height="5.2" fill="none" stroke="#4646e6" stroke-opacity="0.28" stroke-width="0.8"/>
<rect x="153.90" y="403.29" width="5.2" height="5.2" fill="none" stroke="#4646e6" stroke-opacity="0.28" stroke-width="0.8"/>
<rect x="155.95" y="401.83" width="5.2" height="5.2" fill="none" stroke="#4646e6" stroke-opacity="0.28" stroke-width="0.8"/>
<rect x="158.01" y="400.38" width="5.2" height="5.2" fill="none" stroke="#4646e6" stroke-opacity="0.28" stroke-width="0.8"/>
<rect x="160.06" y="398.93" width="5.2" height="5.2" fill="none" stroke="#4646e6" stroke-opacity="0.28" stroke-width="0.8"/>
<rect x="162.12" y="397.48" width="5.2" height="5.2" fill="none" stroke="#4646e6" stroke-opacity="0.5" stroke-width="0.8"/>
<rect x="164.17" y="396.03" width="5.2" height="5.2" fill="none" stroke="#4646e6" stroke-opacity="0.5" stroke-width="0.8"/>
<rect x="166.23" y="394.59" width="5.2" height="5.2" fill="none" stroke="#4646e6" stroke-opacity="0.5" stroke-width="0.8"/>
<rect x="168.29" y="393.15" width="5.2" height="5.2" fill="none" stroke="#4646e6" stroke-opacity="0.5" stroke-width="0.8"/>
<rect x="170.34" y="391.71" width="5.2" height="5.2" fill="none" stroke="#4646e6" stroke-opacity="0.5" stroke-width="0.8"/>
<rect x="172.40" y="390.27" width="5.2" height="5.2" fill="none" stroke="#4646e6" stroke-opacity="0.5" stroke-width="0.8"/>
<rect x="174.45" y="388.83" width="5.2" height="5.2" fill="none" stroke="#4646e6" stroke-opacity="0.5" stroke-width="0.8"/>
<rect x="176.81" y="387.90" width="5.2" height="5.2" fill="none" stroke="#4646e6" stroke-opacity="0.65" stroke-width="0.8"/>
<rect x="201.47" y="370.87" width="5.2" height="5.2" fill="none" stroke="#4646e6" stroke-opacity="0.65" stroke-width="0.8"/>
<rect x="222.03" y="356.89" width="5.2" height="5.2" fill="none" stroke="#4646e6" stroke-opacity="0.65" stroke-width="0.8"/>
<rect x="242.58" y="343.05" width="5.2" height="5.2" fill="none" stroke="#4646e6" stroke-opacity="0.65" stroke-width="0.8"/>
<rect x="263.13" y="329.33" width="5.2" height="5.2" fill="none" stroke="#4646e6" stroke-opacity="0.65" stroke-width="0.8"/>
<rect x="283.69" y="315.69" width="5.2" height="5.2" fill="none" stroke="#4646e6" stroke-opacity="0.65" stroke-width="0.8"/>
<rect x="304.24" y="302.09" width="5.2" height="5.2" fill="none" stroke="#4646e6" stroke-opacity="0.65" stroke-width="0.8"/>
<rect x="324.79" y="288.51" width="5.2" height="5.2" fill="none" stroke="#4646e6" stroke-opacity="0.65" stroke-width="0.8"/>
<rect x="345.35" y="274.91" width="5.2" height="5.2" fill="none" stroke="#4646e6" stroke-opacity="0.65" stroke-width="0.8"/>
<text x="73.20" y="465.30" font-size="16" fill="#1a1a1a" text-anchor="end" >0</text>
<text x="73.20" y="415.20" font-size="16" fill="#1a1a1a" text-anchor="end" >0.002</text>
<text x="73.20" y="365.00" font-size="16" fill="#1a1a1a" text-anchor="end" >0.004</text>
<text x="73.20" y="314.60" font-size="16" fill="#1a1a1a" text-anchor="end" >0.006</text>
<text x="73.20" y="263.80" font-size="16" fill="#1a1a1a" text-anchor="end" >0.008</text>
<text x="79.55" y="485.20" font-size="16" fill="#1a1a1a" text-anchor="middle" >0</text>
<text x="120.66" y="485.20" font-size="16" fill="#1a1a1a" text-anchor="middle" >1</text>
<text x="161.76" y="485.20" font-size="16" fill="#1a1a1a" text-anchor="middle" >2</text>
<text x="202.87" y="485.20" font-size="16" fill="#1a1a1a" text-anchor="middle" >3</text>
<text x="243.98" y="485.20" font-size="16" fill="#1a1a1a" text-anchor="middle" >4</text>
<text x="285.09" y="485.20" font-size="16" fill="#1a1a1a" text-anchor="middle" >5</text>
<text x="326.19" y="485.20" font-size="16" fill="#1a1a1a" text-anchor="middle" >6</text>
<text x="367.30" y="485.20" font-size="16" fill="#1a1a1a" text-anchor="middle" >7</text>
<text x="225.70" y="501.60" font-size="16" fill="#1a1a1a" text-anchor="middle" >B (T)</text>
<text transform="translate(15.8,396.3) rotate(-90)" font-size="16" fill="#1a1a1a" textLength="71.6" lengthAdjust="spacing">M (μ<tspan font-size="10" dy="8.8">B</tspan><tspan dy="-8.8">/f.u.)</tspan></text>
<defs><marker id="mr" markerWidth="12" markerHeight="9" refX="10" refY="4.5" orient="auto" markerUnits="userSpaceOnUse"><path d="M0 0 L11 4.5 L0 9 L3.2 4.5 Z" fill="#ff1010"/></marker><marker id="mb" markerWidth="12" markerHeight="9" refX="10" refY="4.5" orient="auto" markerUnits="userSpaceOnUse"><path d="M0 0 L11 4.5 L0 9 L3.2 4.5 Z" fill="#1010e0"/></marker></defs>
<line x1="107.1" y1="412.6" x2="142.2" y2="388.9" stroke="#ff1010" stroke-width="1.4" marker-end="url(#mr)"/>
<line x1="165.9" y1="419.6" x2="127.6" y2="446.4" stroke="#1010e0" stroke-width="1.4" marker-end="url(#mb)"/>
<text x="339.80" y="311.60" font-size="16" fill="#1a1a1a" text-anchor="start" >(b)</text>
<text x="279.4" y="354.7" font-size="16" fill="#1a1a1a">Ni<tspan font-size="11" dy="7.3">2</tspan><tspan dy="-7.3" dx="0.6">VAl</tspan><tspan font-size="11" dy="7.3" dx="0.3">1.08</tspan></text>
<text x="279.40" y="381.20" font-size="16" fill="#1a1a1a" text-anchor="start" >1.7 K</text>
<line x1="222.20" y1="399.00" x2="250.60" y2="399.00" stroke="#a52a2a" stroke-width="1.2" stroke-dasharray="1.5 1.6"/>
<circle cx="237.1" cy="399" r="2.5" fill="#ff0a0a"/>
<text x="252.8" y="404.7" font-size="16" fill="#ff1010" textLength="95" lengthAdjust="spacingAndGlyphs">B (increases)</text>
<text x="252.8" y="425.2" font-size="16" fill="#ff1010">M ~ L(μB/k<tspan font-size="11" dy="8">B</tspan><tspan dy="-8" dx="0.6">T)</tspan></text>
<rect x="234.3" y="442.8" width="5.2" height="5.2" fill="#ffffff" stroke="#7070ee" stroke-width="0.8"/>
<text x="252.8" y="451.2" font-size="16" fill="#1010e0" textLength="100.6" lengthAdjust="spacingAndGlyphs">B (decreases)</text>
</g>
</svg>
</body></html>
